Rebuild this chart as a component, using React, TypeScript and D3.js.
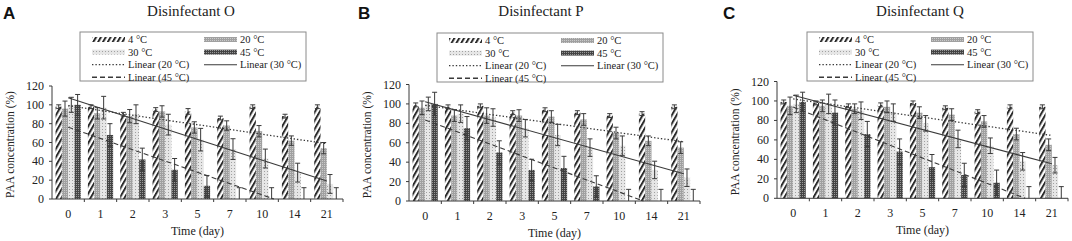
import React from 'react';
import * as d3 from 'd3';

// ---------- data ----------
const days = ['0', '1', '2', '3', '5', '7', '10', '14', '21'];
const seriesNames = ['4 °C', '20 °C', '30 °C', '45 °C'];
const trendNames = ['Linear (20 °C)', 'Linear (30 °C)', 'Linear (45 °C)'];
const panelLetters = ['A', 'B', 'C'];
const panelTitles = ['Disinfectant O', 'Disinfectant P', 'Disinfectant Q'];
const yTicks = [0, 20, 40, 60, 80, 100, 120];
const yAxisTitle = 'PAA concentration (%)';
const xAxisTitle = 'Time (day)';

// Disinfectant O
const O_4 = [98, 98, 90, 95, 93, 86, 98, 88, 98];
const O_20 = [96, 91, 88, 93, 76, 78, 72, 62, 54];
const O_30 = [100, 97, 90, 79, 63, 53, 43, 28, 16];
const O_45 = [100, 68, 42, 31, 14, 0, 0, 0, 0];
const O_4err = [2, 2, 2, 2, 3, 2, 2, 2, 2];
const O_20err = [8, 6, 7, 6, 6, 5, 6, 5, 6];
const O_30err = [8, 12, 10, 11, 12, 11, 10, 10, 10];
const O_45err = [11, 12, 12, 12, 11, 12, 12, 12, 12];

// Disinfectant P
const P_4 = [99, 97, 98, 91, 94, 91, 88, 90, 97];
const P_20 = [96, 88, 88, 88, 87, 84, 70, 62, 55];
const P_30 = [100, 90, 86, 75, 68, 55, 57, 32, 24];
const P_45 = [100, 75, 50, 32, 34, 15, 0, 0, 0];
const P_4err = [2, 2, 2, 2, 2, 2, 2, 2, 2];
const P_20err = [7, 6, 8, 6, 6, 6, 6, 5, 6];
const P_30err = [7, 9, 9, 9, 11, 9, 10, 9, 9];
const P_45err = [12, 12, 12, 11, 12, 11, 12, 12, 12];

// Disinfectant Q
const Q_4 = [99, 98, 95, 96, 98, 93, 89, 94, 94];
const Q_20 = [95, 95, 92, 94, 88, 86, 79, 66, 55];
const Q_30 = [97, 97, 90, 88, 77, 61, 54, 38, 34];
const Q_45 = [99, 88, 66, 48, 32, 24, 16, 0, 0];
const Q_4err = [2, 2, 2, 2, 2, 2, 2, 2, 2];
const Q_20err = [9, 6, 5, 6, 6, 6, 6, 6, 6];
const Q_30err = [9, 10, 9, 9, 8, 9, 8, 9, 8];
const Q_45err = [10, 13, 13, 13, 13, 12, 13, 12, 12];

const panelValues = [
  [O_4, O_20, O_30, O_45],
  [P_4, P_20, P_30, P_45],
  [Q_4, Q_20, Q_30, Q_45],
];
const panelErrors = [
  [O_4err, O_20err, O_30err, O_45err],
  [P_4err, P_20err, P_30err, P_45err],
  [Q_4err, Q_20err, Q_30err, Q_45err],
];

// ---------- layout ----------
const W = 1072;
const H = 241;
const layouts = [
  { axisX: 52, x1: 343, y0: 199, yTop: 86, titleX: 191, letterX: 3, legendX: 80, legendY: 32 },
  { axisX: 409, x1: 700, y0: 201, yTop: 84.5, titleX: 541, letterX: 358, legendX: 437, legendY: 33 },
  { axisX: 777, x1: 1068, y0: 198.3, yTop: 81.5, titleX: 920, letterX: 723, legendX: 807, legendY: 32 },
];
const patternIds = ['pat4', 'pat20', 'pat30', 'pat45'];
const serif = '"Liberation Serif", "Times New Roman", serif';
const sans = '"Liberation Sans", Arial, sans-serif';
const ink = '#222';
const lineCol = '#3a3a3a';
const trendDash = ['1.4,2', null, '5,3'];

function linreg(vals: number[]) {
  const n = vals.length;
  const xs = vals.map((_, i) => i + 1);
  const mx = d3.mean(xs) as number;
  const my = d3.mean(vals) as number;
  let sxy = 0;
  let sxx = 0;
  xs.forEach((x, i) => {
    sxy += (x - mx) * (vals[i] - my);
    sxx += (x - mx) * (x - mx);
  });
  const slope = sxy / sxx;
  return { slope, intercept: my - slope * mx, n };
}

function Panel({ idx }: { idx: number }) {
  const L = layouts[idx];
  const values = panelValues[idx];
  const errors = panelErrors[idx];
  const x = d3.scaleBand<string>().domain(days).range([L.axisX, L.x1]).paddingInner(0.22).paddingOuter(0.11);
  const xs = d3.scaleBand<string>().domain(seriesNames).range([0, x.bandwidth()]);
  const y = d3.scaleLinear().domain([0, 120]).range([L.y0, L.yTop]);
  const center = (i: number) => (x(days[i]) as number) + x.bandwidth() / 2;
  const idxToPx = d3.scaleLinear().domain([1, days.length]).range([center(0), center(days.length - 1)]);

  const trends = [1, 2, 3].map((s, k) => {
    const { slope, intercept, n } = linreg(values[s]);
    let xa = 1;
    let xb = n;
    let ya = intercept + slope * xa;
    let yb = intercept + slope * xb;
    if (yb < 0) {
      xb = -intercept / slope;
      yb = 0;
    }
    return { k, x1: idxToPx(xa), y1: y(ya), x2: idxToPx(xb), y2: y(yb) };
  });

  const capW = 5;
  const lx = L.legendX;
  const ly = L.legendY;
  const rowY = (r: number) => ly + 7.5 + r * 12.6;
  const col1 = lx + 12;
  const col2 = lx + 124;
  const swW = 33;

  return (
    <g>
      <text x={L.letterX} y={19} fontFamily={sans} fontWeight="bold" fontSize={17} fill="#111">
        {panelLetters[idx]}
      </text>
      <text x={L.titleX} y={16} fontFamily={serif} fontSize={15} textAnchor="middle" fill={ink}>
        {panelTitles[idx]}
      </text>

      {/* bars */}
      {values.map((vals, s) =>
        vals.map((v, i) => (
          <rect
            key={`b${s}-${i}`}
            x={(x(days[i]) as number) + (xs(seriesNames[s]) as number)}
            y={y(v)}
            width={xs.bandwidth()}
            height={L.y0 - y(v)}
            fill={`url(#${patternIds[s]})`}
          />
        ))
      )}

      {/* error bars */}
      {values.map((vals, s) =>
        vals.map((v, i) => {
          const cx = (x(days[i]) as number) + (xs(seriesNames[s]) as number) + xs.bandwidth() / 2;
          const e = errors[s][i];
          const top = y(v + e);
          const bot = y(Math.max(0, v - e));
          return (
            <g key={`e${s}-${i}`} stroke={lineCol} strokeWidth={1}>
              <line x1={cx} x2={cx} y1={top} y2={bot} />
              <line x1={cx - capW / 2} x2={cx + capW / 2} y1={top} y2={top} />
              {v - e > 0 && <line x1={cx - capW / 2} x2={cx + capW / 2} y1={bot} y2={bot} />}
            </g>
          );
        })
      )}

      {/* trend lines */}
      {trends.map((t) => (
        <line
          key={`t${t.k}`}
          x1={t.x1}
          y1={t.y1}
          x2={t.x2}
          y2={t.y2}
          stroke={lineCol}
          strokeWidth={t.k === 0 ? 1.3 : 1.1}
          strokeDasharray={trendDash[t.k] || undefined}
        />
      ))}

      {/* axes */}
      <line x1={L.axisX} x2={L.axisX} y1={L.y0} y2={y(120)} stroke={lineCol} strokeWidth={1} />
      <line x1={L.axisX} x2={L.x1} y1={L.y0} y2={L.y0} stroke={lineCol} strokeWidth={1} />
      {yTicks.map((t) => (
        <g key={`yt${t}`}>
          <line x1={L.axisX - 3} x2={L.axisX} y1={y(t)} y2={y(t)} stroke={lineCol} strokeWidth={1} />
          <text x={L.axisX - 8} y={y(t) + 4} textAnchor="end" fontFamily={serif} fontSize={12} fill={ink}>
            {t}
          </text>
        </g>
      ))}
      {days.map((d, i) => (
        <g key={`xt${d}`}>
          <line
            x1={L.axisX + x.step() * (i + 1)}
            x2={L.axisX + x.step() * (i + 1)}
            y1={L.y0}
            y2={L.y0 + 3}
            stroke={lineCol}
            strokeWidth={1}
          />
          <text x={center(i)} y={L.y0 + 19} textAnchor="middle" fontFamily={serif} fontSize={12} fill={ink}>
            {d}
          </text>
        </g>
      ))}
      <text
        x={(L.axisX + L.x1) / 2}
        y={L.y0 + 35.5}
        textAnchor="middle"
        fontFamily={serif}
        fontSize={12}
        fill={ink}
      >
        {xAxisTitle}
      </text>
      <text
        transform={`translate(${L.axisX - 38},${(L.y0 + y(120)) / 2 + 2}) rotate(-90)`}
        textAnchor="middle"
        fontFamily={serif}
        fontSize={11.5}
        fill={ink}
      >
        {yAxisTitle}
      </text>

      {/* legend */}
      <rect x={lx} y={ly} width={226} height={49} fill="#fff" stroke="#8a8a8a" strokeWidth={1} />
      {[0, 1, 2, 3].map((s) => {
        const r = Math.floor(s / 2);
        const cx = s % 2 === 0 ? col1 : col2;
        return (
          <g key={`ls${s}`}>
            <rect x={cx} y={rowY(r) - 2.5} width={swW} height={5} fill={`url(#${patternIds[s]})`} />
            <text x={cx + swW + 3} y={rowY(r) + 3.5} fontFamily={serif} fontSize={10.5} fill={ink}>
              {seriesNames[s]}
            </text>
          </g>
        );
      })}
      {[0, 1, 2].map((k) => {
        const r = k === 2 ? 3 : 2;
        const cx = k === 1 ? col2 : col1;
        return (
          <g key={`lt${k}`}>
            <line
              x1={cx}
              x2={cx + swW}
              y1={rowY(r)}
              y2={rowY(r)}
              stroke={lineCol}
              strokeWidth={k === 0 ? 1.3 : k === 2 ? 1.6 : 1.1}
              strokeDasharray={trendDash[k] || undefined}
            />
            <text x={cx + swW + 3} y={rowY(r) + 3.5} fontFamily={serif} fontSize={10.5} fill={ink}>
              {trendNames[k]}
            </text>
          </g>
        );
      })}
    </g>
  );
}

export default function App() {
  return (
    <div>
      <style>{`body{margin:0;background:#fff}`}</style>
      <svg width={W} height={H} style={{ display: 'block' }} xmlns="http://www.w3.org/2000/svg">
        <defs>
          <pattern id="pat4" width={4.2} height={4.2} patternUnits="userSpaceOnUse" patternTransform="rotate(30)">
            <rect width={4.2} height={4.2} fill="#fff" />
            <rect width={2} height={4.2} fill="#2a2a2a" />
          </pattern>
          <pattern id="pat20" width={2} height={2} patternUnits="userSpaceOnUse">
            <rect width={2} height={2} fill="#a0a0a0" />
            <rect width={1} height={1} fill="#cacaca" />
          </pattern>
          <pattern id="pat30" width={3} height={3} patternUnits="userSpaceOnUse">
            <rect width={3} height={3} fill="#e6e6e6" />
            <rect x={0} y={0} width={1} height={1} fill="#a0a0a0" />
          </pattern>
          <pattern id="pat45" width={2} height={2} patternUnits="userSpaceOnUse">
            <rect width={2} height={2} fill="#444" />
            <rect width={1} height={1} fill="#999" />
          </pattern>
        </defs>
        <rect width={W} height={H} fill="#fff" />
        {[0, 1, 2].map((i) => (
          <Panel key={i} idx={i} />
        ))}
      </svg>
    </div>
  );
}
